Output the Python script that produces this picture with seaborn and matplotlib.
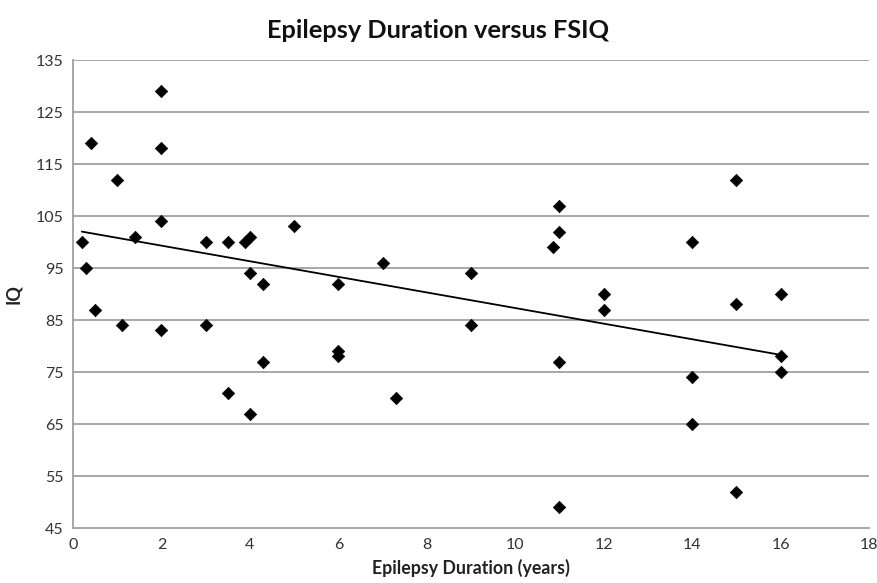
import matplotlib
matplotlib.use("Agg")
import matplotlib.pyplot as plt
import seaborn as sns
import pandas as pd

duration = [0.2, 0.3, 0.4, 0.5, 1.0, 1.1, 1.4, 2, 2, 2, 2, 3, 3, 3.5, 3.5, 3.9, 4, 4, 4,
            4.3, 4.3, 5, 6, 6, 6, 7, 7.3, 9, 9, 10.85, 11, 11, 11, 11, 12, 12, 14, 14, 14,
            15, 15, 15, 16, 16, 16]
iq = [100, 95, 119, 87, 112, 84, 101, 129, 118, 104, 83, 100, 84, 100, 71, 100, 101, 94, 67,
      92, 77, 103, 92, 79, 78, 96, 70, 94, 84, 99, 107, 102, 77, 49, 90, 87, 100, 74, 65,
      112, 88, 52, 90, 78, 75]

# Linear trendline
trend_x = [0.2, 16.0]
trend_y = [102.0, 78.3]

x_ticks = list(range(0, 19, 2))
y_ticks = list(range(45, 136, 10))

df = pd.DataFrame({"Epilepsy Duration (years)": duration, "IQ": iq})
trend = pd.DataFrame({"x": trend_x, "y": trend_y})

sns.set_theme(style="white")
plt.rcParams['font.family'] = ['Lato', 'DejaVu Sans']

fig = plt.figure(figsize=(8.77, 5.83), dpi=100)
ax = fig.add_axes([73/877, 1-528/583, (869-73)/877, (528-60)/583])

for yv in y_ticks[1:]:
    ax.axhline(yv, color="#a0a0a0", lw=1.3, zorder=0)

sns.lineplot(data=trend, x="x", y="y", color="black", lw=1.3, ax=ax, zorder=2)
sns.scatterplot(data=df, x="Epilepsy Duration (years)", y="IQ", marker="D", s=40,
                color="black", edgecolor="black", linewidth=0.5, ax=ax, zorder=3)

ax.set_xlim(0, 18)
ax.set_ylim(45, 135)
ax.set_xticks(x_ticks)
ax.set_yticks(y_ticks)
ax.tick_params(axis="both", length=0, labelsize=11.5, colors="#333333", pad=7)
for s in ["top", "right"]:
    ax.spines[s].set_visible(False)
for s in ["left", "bottom"]:
    ax.spines[s].set_color("#a0a0a0")
    ax.spines[s].set_linewidth(1.3)

ax.set_xlabel("Epilepsy Duration (years)", fontsize=12.8, fontweight="bold", color="#222222", labelpad=5)
ax.set_ylabel("IQ", fontsize=13, fontweight="bold", color="#222222", labelpad=10)
fig.text(0.5, 1-30/583, "Epilepsy Duration versus FSIQ", ha="center", va="center",
         fontsize=18.3, fontweight="bold", color="#111111")

fig.savefig("out.png", dpi=100)
